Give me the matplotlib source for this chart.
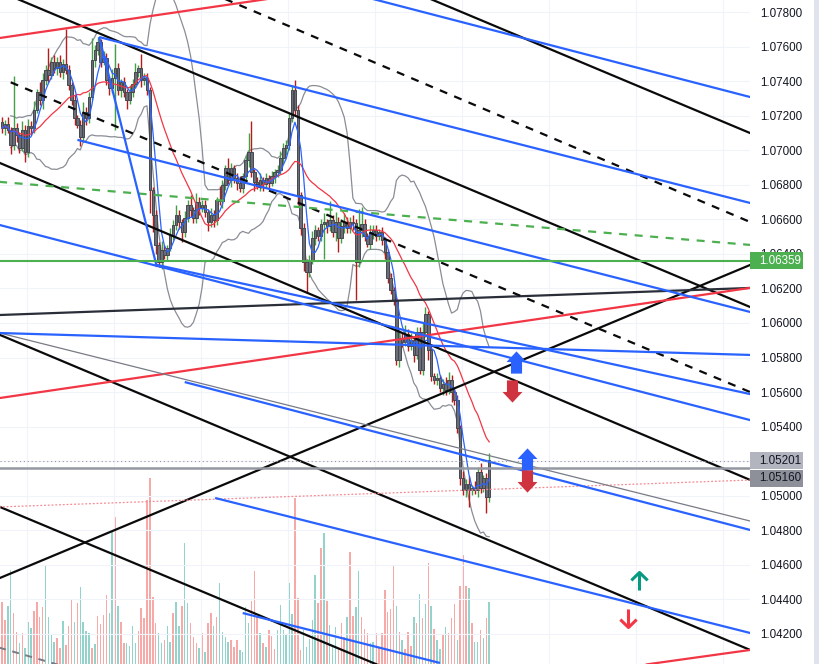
import matplotlib
matplotlib.use('Agg')
import matplotlib.pyplot as plt
import matplotlib.transforms as mtransforms
from matplotlib.path import Path
from matplotlib.patches import Rectangle
import numpy as np
import pandas as pd

plt.rcParams['font.family'] = ['Liberation Sans', 'DejaVu Sans']

##########################
# candles (EURUSD-like), open of first bar, then closes
open0 = 1.07163
closes = [1.07128, 1.07152, 1.07117, 1.07030, 1.07128, 1.07088, 1.07013, 1.07117, 1.06989, 1.07140,
          1.07128, 1.07233, 1.07337, 1.07290, 1.07406, 1.07464, 1.07435, 1.07511, 1.07476, 1.07511,
          1.07453, 1.07499, 1.07464, 1.07377, 1.07290, 1.07186, 1.07146, 1.07076, 1.07221, 1.07186,
          1.07308, 1.07522, 1.07580, 1.07626, 1.07511, 1.07534, 1.07406, 1.07360, 1.07418, 1.07476,
          1.07348, 1.07395, 1.07337, 1.07290, 1.07337, 1.07383, 1.07453, 1.07476, 1.07406, 1.07418,
          1.07348, 1.06769, 1.06625, 1.06451, 1.06353, 1.06422, 1.06393, 1.06434, 1.06509, 1.06567,
          1.06625, 1.06584, 1.06526, 1.06607, 1.06683, 1.06654, 1.06607, 1.06700, 1.06665, 1.06683,
          1.06642, 1.06584, 1.06625, 1.06596, 1.06711, 1.06705, 1.06798, 1.06897, 1.06827, 1.06897,
          1.06839, 1.06810, 1.06781, 1.06850, 1.06943, 1.06989, 1.06874, 1.06816, 1.06793, 1.06827,
          1.06804, 1.06839, 1.06810, 1.06850, 1.06874, 1.06885, 1.06955, 1.07013, 1.07030, 1.07186,
          1.07348, 1.07233, 1.06740, 1.06549, 1.06353, 1.06295, 1.06364, 1.06491, 1.06538, 1.06503,
          1.06573, 1.06584, 1.06561, 1.06596, 1.06526, 1.06584, 1.06491, 1.06561, 1.06584, 1.06549,
          1.06584, 1.06580, 1.06353, 1.06538, 1.06573, 1.06503, 1.06457, 1.06526, 1.06538, 1.06503,
          1.06526, 1.06480, 1.06410, 1.06260, 1.06190, 1.06133, 1.05785, 1.05912, 1.05889, 1.05936,
          1.05866, 1.05901, 1.05814, 1.05947, 1.05727, 1.05947, 1.06051, 1.05843, 1.05692, 1.05669,
          1.05681, 1.05623, 1.05646, 1.05611, 1.05669, 1.05600, 1.05553, 1.05391, 1.05102, 1.05032,
          1.05067, 1.05032, 1.05044, 1.05032, 1.05137, 1.05044, 1.05102, 1.04992, 1.05206]
# wicks in pips above / below the body
wick_up = [3, 2, 4, 2, 30, 3, 2, 5, 3, 4,
           3, 5, 2, 6, 4, 3, 13, 3, 4, 3,
           4, 3, 20, 3, 2, 3, 2, 3, 6, 3,
           3, 13, 3, 3, 2, 4, 3, 2, 5, 14,
           3, 2, 3, 2, 4, 3, 5, 2, 8, 3,
           3, 2, 2, 3, 2, 5, 3, 2, 4, 3,
           6, 3, 2, 4, 3, 6, 2, 5, 3, 3,
           3, 2, 4, 3, 2, 8, 3, 2, 6, 3,
           2, 3, 4, 2, 3, 11, 18, 2, 3, 4,
           2, 3, 2, 3, 2, 3, 4, 3, 3, 3,
           3, 6, 3, 2, 3, 2, 3, 4, 3, 2,
           3, 5, 2, 11, 3, 6, 3, 4, 5, 3,
           3, 4, 2, 12, 10, 3, 2, 4, 3, 3,
           2, 3, 2, 2, 3, 2, 2, 4, 3, 5,
           3, 4, 2, 3, 3, 5, 4, 2, 3, 2,
           3, 2, 3, 4, 5, 3, 2, 3, 2, 4,
           3, 5, 2, 4, 3, 5, 2, 3, 4]
wick_dn = [3, 4, 2, 5, 3, 4, 3, 2, 6, 3,
           4, 3, 2, 3, 5, 3, 4, 2, 3, 4,
           3, 4, 2, 3, 3, 4, 2, 5, 3, 4,
           3, 2, 4, 3, 3, 2, 3, 4, 3, 30,
           3, 4, 3, 5, 2, 3, 2, 3, 4, 3,
           3, 13, 10, 5, 3, 4, 2, 3, 2, 3,
           3, 4, 6, 3, 2, 4, 3, 3, 4, 2,
           3, 5, 3, 4, 3, 2, 4, 3, 2, 4,
           3, 4, 2, 3, 3, 4, 3, 5, 2, 3,
           4, 2, 3, 2, 4, 3, 2, 3, 4, 3,
           2, 3, 6, 4, 5, 12, 3, 2, 4, 3,
           3, 20, 4, 3, 3, 5, 8, 3, 4, 3,
           3, 4, 22, 3, 4, 3, 2, 3, 4, 3,
           2, 3, 4, 3, 2, 3, 3, 4, 3, 2,
           3, 2, 4, 2, 2, 3, 3, 6, 3, 2,
           3, 2, 4, 3, 2, 6, 3, 3, 4, 3,
           4, 10, 3, 2, 4, 3, 2, 9, 3]
volume = [62,
          44, 58, 94, 51, 32, 21, 31, 16, 42, 36,
          53, 62, 47, 57, 98, 47, 29, 22, 26, 16,
          43, 19, 38, 64, 42, 61, 77, 42, 33, 31,
          16, 20, 48, 40, 49, 69, 51, 134, 147, 58,
          42, 21, 21, 18, 38, 21, 33, 56, 46, 164,
          186, 67, 41, 31, 21, 24, 38, 22, 51, 62,
          38, 58, 121, 61, 41, 27, 21, 16, 31, 12,
          41, 51, 38, 47, 81, 32, 27, 22, 24, 17,
          24, 14, 12, 57, 41, 63, 93, 48, 31, 21,
          17, 34, 28, 15, 34, 59, 34, 29, 81, 50,
          166, 66, 14, 34, 17, 25, 44, 89, 61, 116,
          131, 63, 39, 17, 37, 16, 41, 27, 47, 112,
          48, 57, 93, 47, 35, 31, 21, 22, 31, 17,
          31, 74, 52, 55, 98, 58, 32, 24, 15, 32,
          18, 47, 41, 70, 46, 60, 101, 58, 35, 24,
          15, 29, 37, 31, 46, 60, 24, 78, 109, 78,
          76, 41, 22, 22, 34, 26, 46, 62]
vol_dir = ('dduudduduu' 'udddduuuud' 'duddduduuu' 'ududddduud' 'udduuuuddd'
           'dddduuduud' 'uuduudddud' 'udduduuuud' 'dduuuudddu' 'duddduuuuu'
           'uddduuuuud' 'duduuudddu' 'dduuddduud' 'ddddddudud' 'ddudududud'
           'uududddudd' 'duduududu')

# drawings: (bar0, price0, bar1, price1)
black_lines = [(-1, 1.07920, 260, 1.06078), (140, 1.07930, 260, 1.07085),
               (-1, 1.06928, 260, 1.05077), (-1, 1.05933, 260, 1.04093),
               (-1, 1.04522, 260, 1.06350), (-1, 1.04937, 135, 1.03983)]
dark_line = (-1, 1.06046, 260, 1.06204)
black_dashed = [(75, 1.07889, 260, 1.06570), (3, 1.07393, 260, 1.05586)]
gray_dashed = (-1, 1.04121, 22, 1.04009)
green_dashed = (-1, 1.06817, 260, 1.06449)
red_lines = [(-1, 1.07649, 100, 1.07896), (-1, 1.05565, 260, 1.06208),
             (222, 1.04023, 260, 1.04112)]
red_dotted = (-1, 1.04935, 260, 1.05092)
gray_thin = (-1, 1.05943, 260, 1.04845)
blue_lines = [(125, 1.07888, 260, 1.07299), (33.5, 1.07655, 260, 1.06686),
              (26, 1.07060, 260, 1.06055), (33.5, 1.07655, 53.4, 1.06324),
              (-1, 1.06568, 260, 1.05429), (53.4, 1.06336, 260, 1.05581),
              (-1, 1.05942, 260, 1.05814), (63, 1.05658, 260, 1.04793),
              (73.5, 1.04987, 260, 1.04197), (83, 1.04321, 151, 1.04032)]
green_level = 1.06359
last_price = 1.05201
prev_price = 1.05160

# arrow marks (bar, price)
block_up = [(177.2, 1.05774), (181.0, 1.05213)]
block_dn = [(175.9, 1.05606), (181.0, 1.05085)]
thin_up = [(219.7, 1.04507)]
thin_dn = [(215.9, 1.04293)]
##########################

pip = 0.0001
c = np.array(closes)
o = np.r_[open0, c[:-1]]
x = np.arange(len(c))
hi = np.maximum(o, c) + np.array(wick_up) * pip
lo = np.minimum(o, c) - np.array(wick_dn) * pip
up = c >= o

s = pd.Series(c)
ma_fast = s.rolling(5, min_periods=1).mean()
ma_slow = s.rolling(20, min_periods=1).mean()
sd = s.rolling(20, min_periods=4).std(ddof=0)
bb_up = ma_slow + 2 * sd
bb_lo = ma_slow - 2 * sd

fig = plt.figure(figsize=(8.19, 6.64), dpi=100)
fig.patch.set_facecolor('white')
ax = fig.add_axes([0, 0, 750 / 819, 1])
ax2 = ax.twinx()
ax.set_zorder(ax2.get_zorder() + 1)
ax.patch.set_visible(False)

# volume
vcol = ['#92d3cc' if d == 'u' else '#f7a9a7' for d in vol_dir]
ax2.bar(x, volume, width=0.5, color=vcol, zorder=1)
ax2.set_ylim(0, 664)
ax2.set_yticks([])

# candles
ax.vlines(x, lo, hi, colors=np.where(up, '#43a047', '#b71c1c'), lw=1.0, zorder=3)
ax.bar(x, np.maximum(np.abs(c - o), 0.00003), bottom=np.minimum(o, c), width=0.86,
       color='#6b6e77', edgecolor='#45484f', lw=0.7, zorder=3.1)

# indicators
ax.plot(x, bb_up, color='#8a8d95', lw=0.9, zorder=2.5)
ax.plot(x, bb_lo, color='#8a8d95', lw=0.9, zorder=2.5)
ax.plot(x, ma_slow, color='#f23645', lw=0.9, zorder=4)
ax.plot(x, ma_fast, color='#2962ff', lw=0.9, zorder=4)


def seg(l, **kw):
    ax.plot([l[0], l[2]], [l[1], l[3]], solid_capstyle='butt', **kw)


for l in black_lines:
    seg(l, color='#0a0a0a', lw=1.6, zorder=5)
seg(dark_line, color='#2a2e39', lw=1.6, zorder=5)
for l in black_dashed:
    seg(l, color='#0a0a0a', lw=1.6, ls=(0, (3.6, 3.4)), zorder=5)
seg(gray_dashed, color='#787b86', lw=1.4, ls=(0, (3.6, 3.4)), zorder=5)
seg(green_dashed, color='#4caf50', lw=1.6, ls=(0, (3.6, 3.4)), zorder=5)
for l in red_lines:
    seg(l, color='#f23645', lw=1.6, zorder=5)
seg(red_dotted, color='#f58a93', lw=0.9, ls=(0, (1.5, 1.5)), zorder=5)
seg(gray_thin, color='#787b86', lw=0.9, zorder=5)
for l in blue_lines:
    seg(l, color='#2962ff', lw=1.6, zorder=5)

ax.axhline(green_level, color='#4caf50', lw=1.5, zorder=5)
ax.axhline(prev_price, color='#9598a1', lw=1.8, zorder=5)
ax.axhline(last_price, color='#9598a1', lw=0.8, ls=(0, (1, 2.5)), zorder=5)

# arrows
up_v = [(-0.25, -0.5), (0.25, -0.5), (0.25, 0.02), (0.45, 0.02), (0, 0.5),
        (-0.45, 0.02), (-0.25, 0.02), (-0.25, -0.5)]
codes = [Path.MOVETO] + [Path.LINETO] * 6 + [Path.CLOSEPOLY]
m_up = Path(up_v, codes)
m_dn = Path([(a, -b) for a, b in up_v], codes)
t_codes = [Path.MOVETO, Path.LINETO, Path.MOVETO, Path.LINETO, Path.LINETO]
t_up = Path([(0, -0.5), (0, 0.48), (-0.45, 0.06), (0, 0.5), (0.45, 0.06)], t_codes)
t_dn = Path([(0, 0.5), (0, -0.48), (-0.45, -0.06), (0, -0.5), (0.45, -0.06)], t_codes)

for bx, py in block_up:
    ax.plot(bx, py, marker=m_up, ms=16, color='#2962ff', mec='none', zorder=7)
for bx, py in block_dn:
    ax.plot(bx, py, marker=m_dn, ms=16, color='#d03340', mec='none', zorder=7)
for bx, py in thin_up:
    ax.plot(bx, py, marker=t_up, ms=13, mfc='none', mec='#089981', mew=2.2, zorder=7)
for bx, py in thin_dn:
    ax.plot(bx, py, marker=t_dn, ms=13, mfc='none', mec='#f23645', mew=2.2, zorder=7)

# axes
ticks = np.arange(1.042, 1.0781, 0.002)
ax.set_xlim(-0.69, 257.93)
ax.set_ylim(1.04026, 1.078695)
ax.set_yticks(ticks)
# the 1.05200 label sits under the last-price marker on the scale
ax.set_yticklabels(['' if abs(t - 1.052) < 1e-6 else '%.5f' % t for t in ticks])
ax.set_xticks(np.arange(8.6, 258, 30))
ax.yaxis.tick_right()
ax.tick_params(axis='y', length=0, pad=7, labelsize=8.4, labelcolor='#131722')
ax.tick_params(axis='x', length=0, labelbottom=False)
ax.grid(color='#f0f3fa', lw=0.8)
ax.set_axisbelow(True)
for a in (ax, ax2):
    for sp in a.spines.values():
        sp.set_visible(False)

# price labels on the scale
trans = mtransforms.blended_transform_factory(ax.transAxes, ax.transData)
bh = 17 / 17277
boxes = [(green_level, green_level, '#4caf50', 'white'),
         (last_price, 1.05201 + 0.00001, '#b2b5be', '#131722'),
         (prev_price, 1.05201 - bh, '#8d9098', '#131722')]
for val, yc, fc, tc in boxes:
    ax.add_patch(Rectangle((1.0, yc - bh / 2), 53 / 750, bh, transform=trans,
                           facecolor=fc, edgecolor='none', clip_on=False, zorder=10))
    ax.text(1.0 + 9.5 / 750, yc, '%.5f' % val, transform=trans, ha='left', va='center',
            fontsize=8.4, color=tc, clip_on=False, zorder=11)

fig.patches.append(Rectangle((814 / 819, 0), 5 / 819, 1, transform=fig.transFigure,
                             facecolor='#e0e3eb', edgecolor='none'))

plt.savefig('out.png', dpi=100)
